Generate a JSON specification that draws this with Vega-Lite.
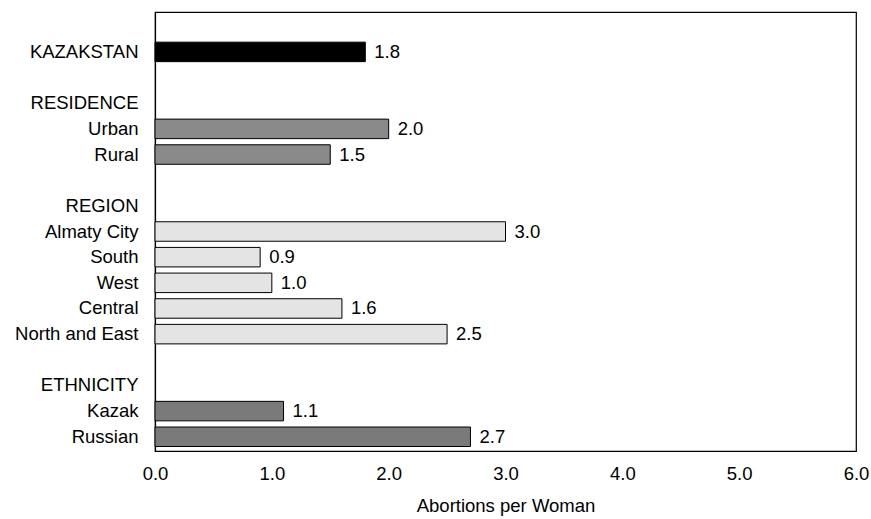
{
  "$schema": "https://vega.github.io/schema/vega-lite/v6.json",
  "autosize": "none",
  "width": 701,
  "height": 439,
  "padding": {"left": 155, "top": 12, "right": 15, "bottom": 68},
  "background": "white",
  "config": {
    "font": "Liberation Sans",
    "view": {"stroke": "black", "strokeWidth": 1.2},
    "axis": {"labelFont": "Liberation Sans", "titleFont": "Liberation Sans", "labelColor": "black", "titleColor": "black", "domainColor": "black"}
  },
  "data": {
    "values": [
      {"row": "_b0", "value": null, "group": "blank"},
      {"row": "KAZAKSTAN", "value": 1.8, "group": "total"},
      {"row": "_b1", "value": null, "group": "blank"},
      {"row": "RESIDENCE", "value": null, "group": "header"},
      {"row": "Urban", "value": 2.0, "group": "residence"},
      {"row": "Rural", "value": 1.5, "group": "residence"},
      {"row": "_b2", "value": null, "group": "blank"},
      {"row": "REGION", "value": null, "group": "header"},
      {"row": "Almaty City", "value": 3.0, "group": "region"},
      {"row": "South", "value": 0.9, "group": "region"},
      {"row": "West", "value": 1.0, "group": "region"},
      {"row": "Central", "value": 1.6, "group": "region"},
      {"row": "North and East", "value": 2.5, "group": "region"},
      {"row": "_b3", "value": null, "group": "blank"},
      {"row": "ETHNICITY", "value": null, "group": "header"},
      {"row": "Kazak", "value": 1.1, "group": "ethnicity"},
      {"row": "Russian", "value": 2.7, "group": "ethnicity"}
    ]
  },
  "encoding": {
    "y": {
      "field": "row",
      "type": "nominal",
      "scale": {
        "domain": ["_b0", "KAZAKSTAN", "_b1", "RESIDENCE", "Urban", "Rural", "_b2", "REGION", "Almaty City", "South", "West", "Central", "North and East", "_b3", "ETHNICITY", "Kazak", "Russian"],
        "paddingInner": 0.24,
        "paddingOuter": 0.175
      },
      "axis": {
        "title": null,
        "ticks": false,
        "labelPadding": 17,
        "labelFontSize": 18.5,
        "labelExpr": "substring(datum.value,0,2) == '_b' ? '' : datum.value",
        "domainWidth": 1.2
      }
    }
  },
  "layer": [
    {
      "mark": {"type": "bar", "stroke": "black", "strokeWidth": 1},
      "encoding": {
        "x": {
          "field": "value",
          "type": "quantitative",
          "scale": {"domain": [0, 6], "nice": false},
          "axis": {
            "title": "Abortions per Woman",
            "values": [0, 1, 2, 3, 4, 5, 6],
            "format": ".1f",
            "ticks": false,
            "grid": false,
            "labelFlush": false,
            "labelPadding": 13,
            "labelFontSize": 18.5,
            "titleFontSize": 18.5,
            "titleFontWeight": "normal",
            "titlePadding": 14,
            "domainWidth": 1.2
          }
        },
        "fill": {
          "field": "group",
          "type": "nominal",
          "scale": {
            "domain": ["total", "residence", "region", "ethnicity"],
            "range": ["#000000", "#8a8a8a", "#e4e4e4", "#7a7a7a"]
          },
          "legend": null
        }
      }
    },
    {
      "mark": {"type": "text", "align": "left", "baseline": "middle", "dx": 9, "fontSize": 18.5, "color": "black"},
      "encoding": {
        "x": {"field": "value", "type": "quantitative"},
        "text": {"field": "value", "type": "quantitative", "format": ".1f"}
      }
    }
  ]
}
